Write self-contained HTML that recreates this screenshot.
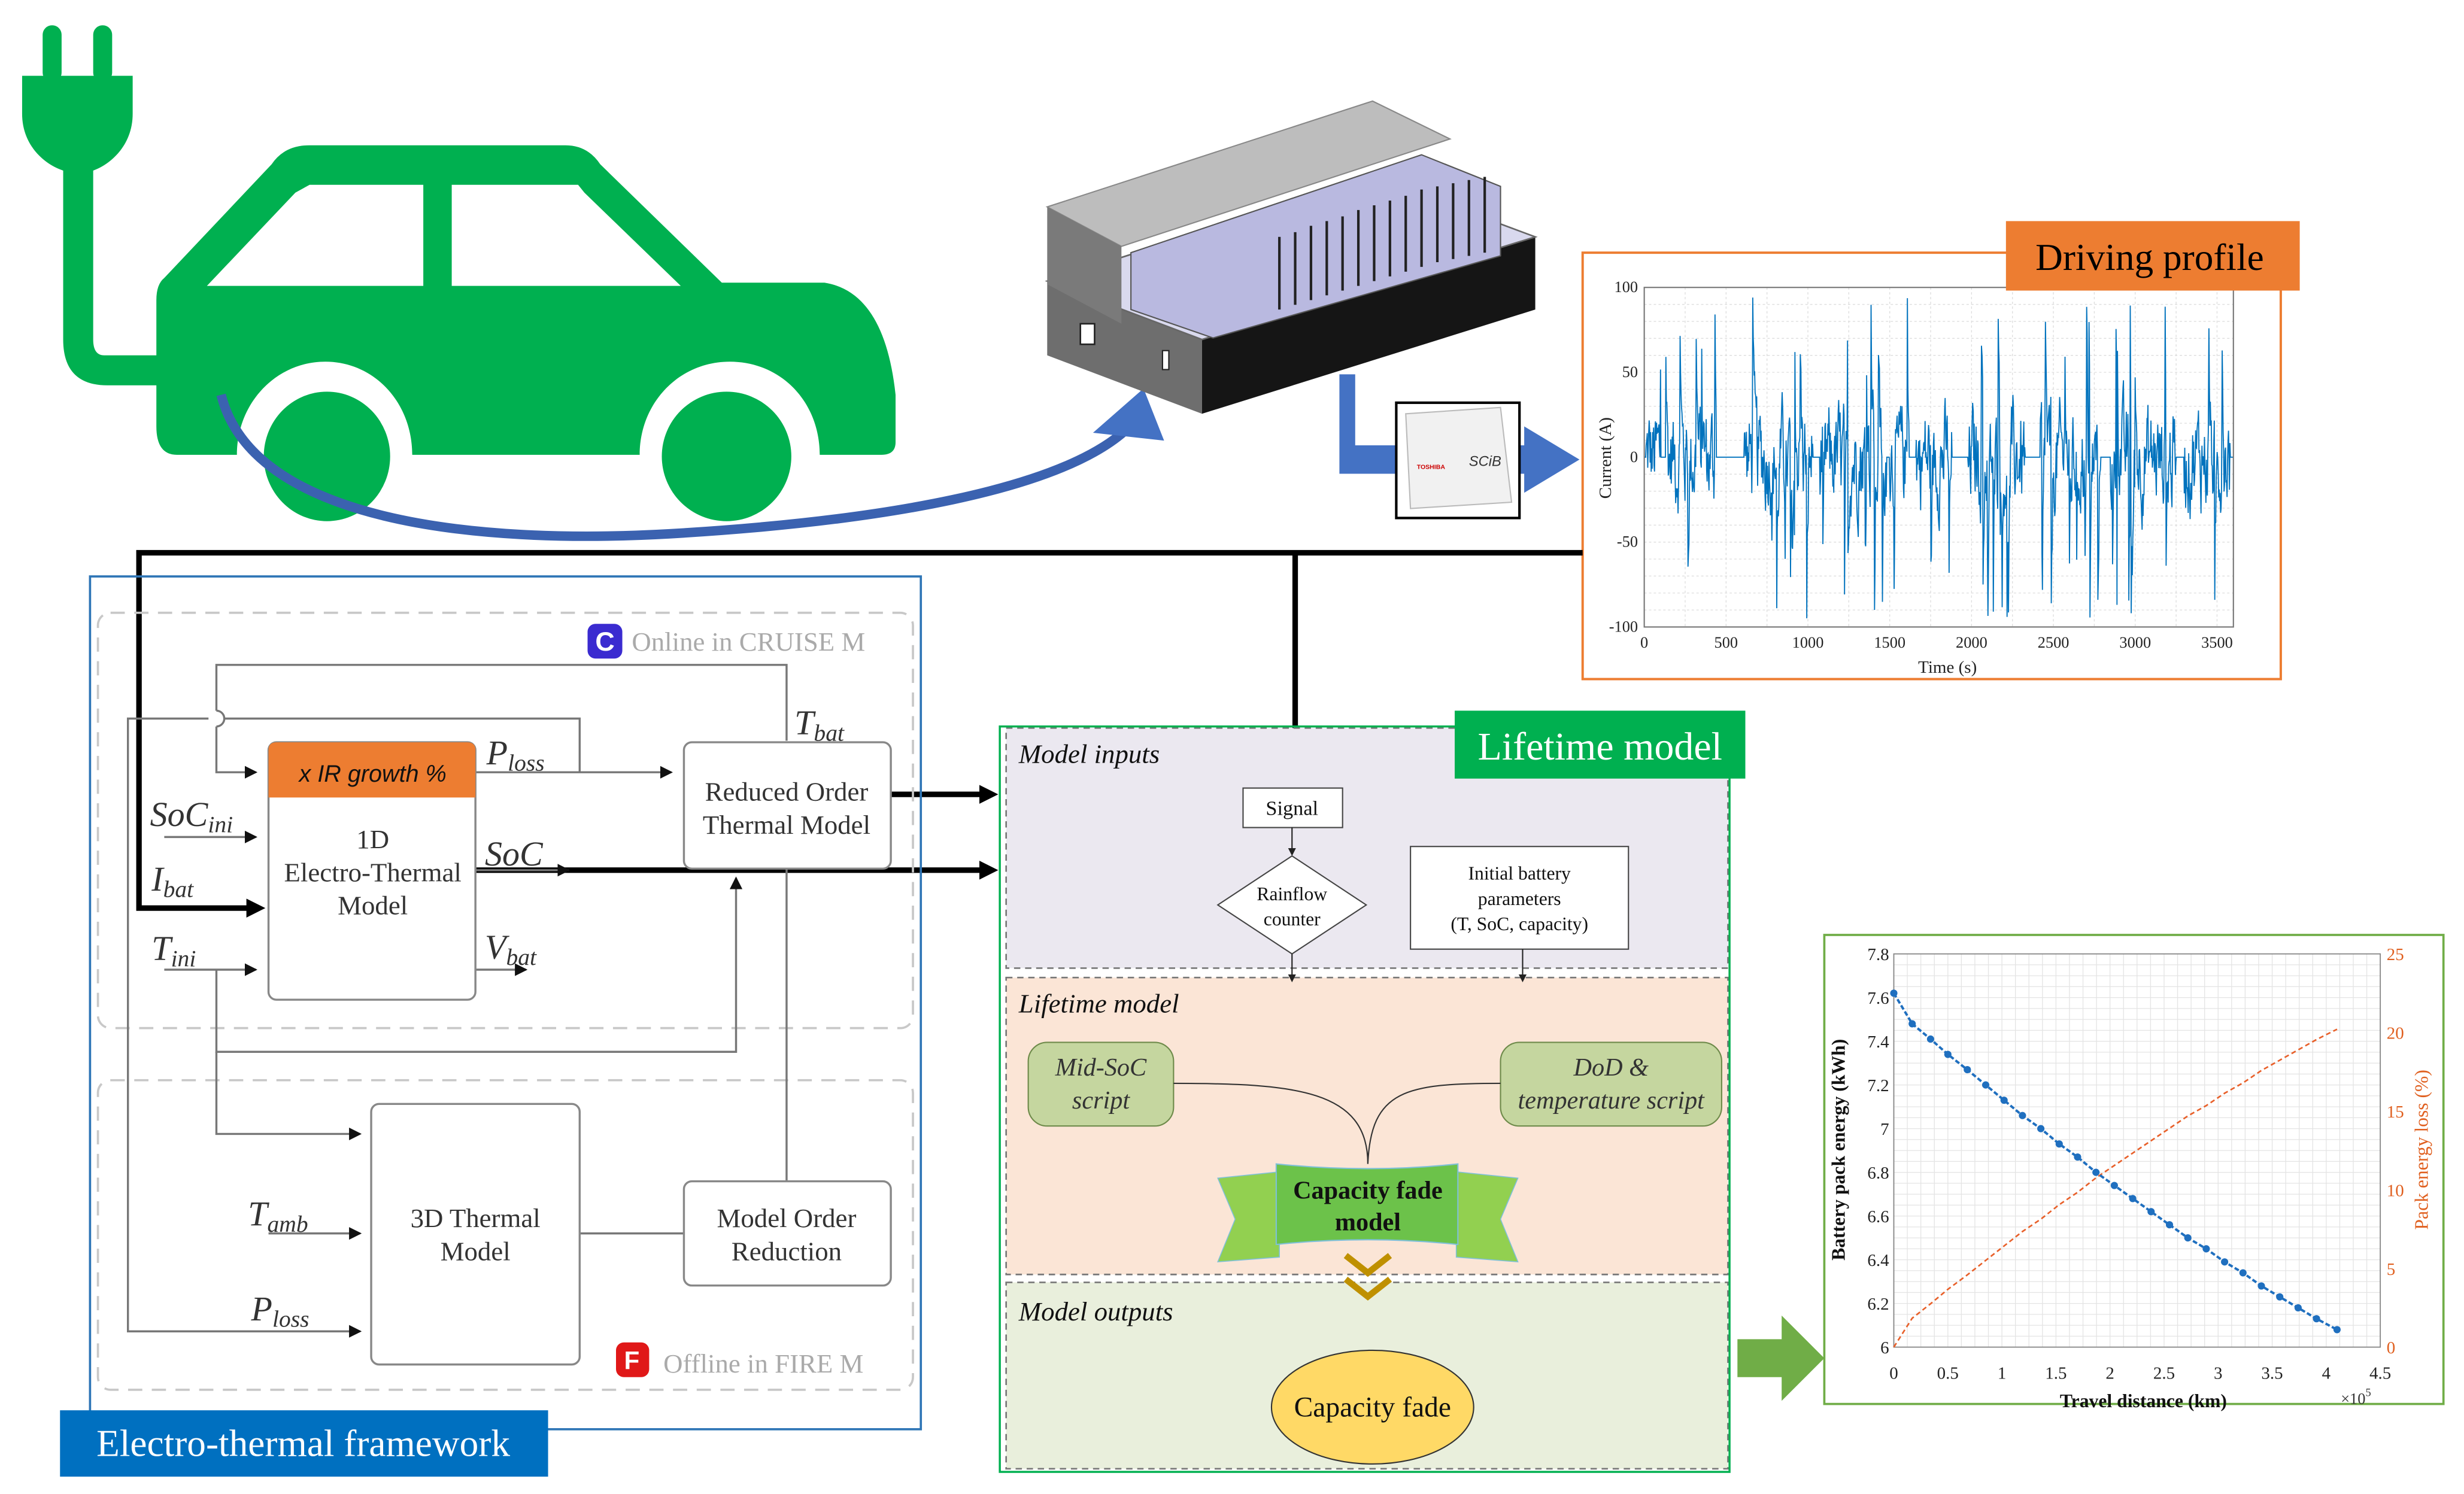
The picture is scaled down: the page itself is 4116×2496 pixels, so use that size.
<!DOCTYPE html>
<html><head><meta charset="utf-8"><style>
html,body{margin:0;padding:0;background:#fff;}
svg{display:block;}
.s{font-family:"Liberation Serif",serif;}
.m{font-family:"Liberation Serif",serif;font-style:italic;}
</style></head><body>
<svg id="sv" width="4116" height="2496" viewBox="0 0 1560 946" xmlns="http://www.w3.org/2000/svg">
<defs>
<marker id="ag" markerWidth="8" markerHeight="8" refX="7" refY="4" orient="auto" markerUnits="userSpaceOnUse"><path d="M0,0 L8,4 L0,8 Z" fill="#111"/></marker>
<marker id="ab" markerWidth="12" markerHeight="12" refX="4" refY="6" orient="auto" markerUnits="userSpaceOnUse"><path d="M0,0 L12,6 L0,12 Z" fill="#000"/></marker>
<marker id="as" markerWidth="5" markerHeight="5" refX="4" refY="2.5" orient="auto" markerUnits="userSpaceOnUse"><path d="M0,0 L5,2.5 L0,5 Z" fill="#222"/></marker>
</defs>

<!-- CAR -->
<g fill="#00b050">
<rect x="27" y="16" width="12" height="36" rx="6"/><rect x="59" y="16" width="12" height="36" rx="6"/>
<path d="M14,48 H84 V72 C84,92 70,104 59,108 L40,108 C28,104 14,92 14,72 Z"/>
<path d="M40,105 V215 Q40,244 68,244 H100 V225 H66 Q59,225 59,215 V105 Z"/>
<path d="M104,176 L172,104 Q180,92 196,92 H358 Q372,92 380,104 L457,179 H522 Q560,185 567,250 V280 Q567,288 558,288 H519 C519,255 495,229 462,229 C430,229 405,255 405,288 H261 C261,255 237,229 206,229 C175,229 150,255 150,288 H112 Q99,288 99,270 V190 Q99,180 104,176 Z"/>
<ellipse cx="207" cy="289" rx="40" ry="41"/><ellipse cx="460" cy="289" rx="41" ry="41"/>
</g>
<g fill="#fff">
<polygon points="131,181 187,122 196,117 268,117 268,181"/>
<polygon points="286,117 366,117 370,122 431,181 286,181"/>
</g>
<path d="M140,250 C160,330 300,345 424,338 C560,330 670,310 712,273" fill="none" stroke="#3b62b0" stroke-width="6"/>
<polygon points="724,246 692,274 737,279" fill="#4472c4"/>

<!-- BATTERY PACK -->
<polygon points="663,178 761,215 761,262 663,225" fill="#6e6e6e"/>
<polygon points="761,215 972,150 972,196 761,262" fill="#151515"/>
<polygon points="663,178 870,112 972,150 761,215" fill="#d9d9ee" stroke="#666" stroke-width="1"/>
<polygon points="716,160 900,98 950,118 950,162 768,214 716,196" fill="#b9b9e0" stroke="#555" stroke-width="0.8"/>
<g stroke="#222" stroke-width="1.6">
<line x1="810" y1="196" x2="810" y2="150"/><line x1="820" y1="193" x2="820" y2="147"/><line x1="830" y1="190" x2="830" y2="143"/><line x1="840" y1="187" x2="840" y2="140"/><line x1="850" y1="184" x2="850" y2="137"/><line x1="860" y1="181" x2="860" y2="133"/><line x1="870" y1="178" x2="870" y2="130"/><line x1="880" y1="175" x2="880" y2="127"/><line x1="890" y1="172" x2="890" y2="124"/><line x1="900" y1="169" x2="900" y2="120"/><line x1="910" y1="166" x2="910" y2="118"/><line x1="920" y1="164" x2="920" y2="116"/><line x1="930" y1="162" x2="930" y2="114"/><line x1="940" y1="160" x2="940" y2="112"/>
</g>
<polygon points="663,131 869,64 918,88 710,156" fill="#bdbdbd" stroke="#888" stroke-width="0.8"/>
<polygon points="663,131 710,156 710,205 663,180" fill="#7a7a7a"/>
<rect x="684" y="205" width="9" height="13" fill="#fff" stroke="#222" stroke-width="1"/>
<rect x="736" y="222" width="4" height="12" fill="#fff" stroke="#222" stroke-width="0.8"/>

<path d="M848,237 H858 V282 H965 V270 L1000,291 L965,312 V300 H848 Z" fill="#4472c4"/>
<rect x="884" y="255" width="78" height="73" fill="#fff" stroke="#000" stroke-width="1.6"/>
<polygon points="890,262 950,258 957,318 893,322" fill="#f1f1f1" stroke="#bbb" stroke-width="0.8"/>
<text x="897" y="297" font-family="Liberation Sans,sans-serif" font-size="4" fill="#c00" font-weight="bold">TOSHIBA</text>
<text x="930" y="295" font-family="Liberation Sans,sans-serif" font-size="9" font-style="italic" fill="#333">SCiB</text>

<!-- DRIVING PROFILE -->
<rect x="1002" y="160" width="442" height="270" fill="#fff" stroke="#ed7d31" stroke-width="1.5"/>
<g id="grid1" stroke="#ddd" stroke-width="0.5" stroke-dasharray="1.5,1.5"></g>
<g id="sig"></g>
<rect x="1041" y="182" width="373" height="215" fill="none" stroke="#777" stroke-width="0.8"/>
<g class="s" font-size="10" fill="#222" text-anchor="end" id="yt1"></g>
<g class="s" font-size="10" fill="#222" text-anchor="middle" id="xt1"></g>
<text class="s" x="1233" y="426" font-size="11" text-anchor="middle" fill="#222">Time (s)</text>
<text class="s" x="1020" y="290" font-size="11" text-anchor="middle" fill="#222" transform="rotate(-90 1020 290)">Current (A)</text>
<rect x="1270" y="140" width="186" height="44" fill="#ed7d31"/>
<text class="s" x="1361" y="171" font-size="24" text-anchor="middle" fill="#000">Driving profile</text>

<g stroke="#000" stroke-width="3.5" fill="none">
<polyline points="1002,350 88,350 88,575 160,575" marker-end="url(#ab)"/>
<line x1="820" y1="350" x2="820" y2="488" marker-end="url(#ab)"/>
<line x1="564" y1="503" x2="624" y2="503" marker-end="url(#ab)"/>
<line x1="301" y1="551" x2="624" y2="551" marker-end="url(#ab)"/>
</g>

<!-- ELECTRO-THERMAL FRAMEWORK -->
<rect x="57" y="365" width="526" height="540" fill="none" stroke="#2e75b6" stroke-width="1.4"/>
<rect x="62" y="388" width="516" height="263" rx="8" fill="none" stroke="#c8c8c8" stroke-width="1.4" stroke-dasharray="9,6"/>
<rect x="62" y="684" width="516" height="196" rx="8" fill="none" stroke="#c8c8c8" stroke-width="1.4" stroke-dasharray="9,6"/>
<rect x="372" y="395" width="22" height="22" rx="5" fill="#3a2bd0"/>
<text x="383" y="412" font-family="Liberation Sans,sans-serif" font-size="17" font-weight="bold" fill="#fff" text-anchor="middle">C</text>
<text class="s" x="400" y="412" font-size="17" fill="#aaa">Online in CRUISE M</text>
<rect x="390" y="850" width="21" height="22" rx="5" fill="#e01818"/>
<text x="400" y="867" font-family="Liberation Sans,sans-serif" font-size="16" font-weight="bold" fill="#fff" text-anchor="middle">F</text>
<text class="s" x="420" y="869" font-size="17" fill="#aaa">Offline in FIRE M</text>

<g stroke="#777" stroke-width="1.3" fill="none">
<polyline points="498,469 498,421 137,421 137,450"/>
<path d="M137,450 A5,5 0 0 1 137,460"/>
<polyline points="137,460 137,489 162,489" marker-end="url(#ag)"/>
<line x1="301" y1="489" x2="425" y2="489" marker-end="url(#ag)"/>
<polyline points="367,489 367,455 142,455"/>
<polyline points="132,455 81,455 81,843 228,843" marker-end="url(#ag)"/>
<line x1="104" y1="530" x2="162" y2="530" marker-end="url(#ag)"/>
<line x1="104" y1="614" x2="162" y2="614" marker-end="url(#ag)"/>
<line x1="301" y1="614" x2="333" y2="614" marker-end="url(#ag)"/>
<polyline points="137,614 137,666 466,666 466,556" marker-end="url(#ag)"/>
<polyline points="137,666 137,718 228,718" marker-end="url(#ag)"/>
<line x1="170" y1="781" x2="228" y2="781" marker-end="url(#ag)"/>
<line x1="367" y1="781" x2="433" y2="781"/>
<line x1="498" y1="549" x2="498" y2="748"/>
<line x1="301" y1="551" x2="360" y2="551" marker-end="url(#ag)"/>
</g>

<rect x="170" y="470" width="131" height="163" rx="5" fill="#fff" stroke="#888" stroke-width="1.3"/>
<path d="M170,505 V475 Q170,470 175,470 H296 Q301,470 301,475 V505 Z" fill="#ed7d31"/>
<text x="236" y="495" font-family="Liberation Sans,sans-serif" font-style="italic" font-size="15" text-anchor="middle" fill="#111">x IR growth %</text>
<g class="s" font-size="17" text-anchor="middle" fill="#333">
<text x="236" y="537">1D</text><text x="236" y="558">Electro-Thermal</text><text x="236" y="579">Model</text>
</g>
<rect x="433" y="470" width="131" height="80" rx="5" fill="#fff" stroke="#888" stroke-width="1.3"/>
<g class="s" font-size="17" text-anchor="middle" fill="#333"><text x="498" y="507">Reduced Order</text><text x="498" y="528">Thermal Model</text></g>
<rect x="235" y="699" width="132" height="165" rx="5" fill="#fff" stroke="#888" stroke-width="1.3"/>
<g class="s" font-size="17" text-anchor="middle" fill="#333"><text x="301" y="777">3D Thermal</text><text x="301" y="798">Model</text></g>
<rect x="433" y="748" width="131" height="66" rx="5" fill="#fff" stroke="#888" stroke-width="1.3"/>
<g class="s" font-size="17" text-anchor="middle" fill="#333"><text x="498" y="777">Model Order</text><text x="498" y="798">Reduction</text></g>

<g class="m" fill="#333">
<text x="308" y="484" font-size="22">P<tspan font-size="15" dy="4">loss</tspan></text>
<text x="503" y="465" font-size="22">T<tspan font-size="15" dy="4">bat</tspan></text>
<text x="95" y="523" font-size="22">SoC<tspan font-size="15" dy="4">ini</tspan></text>
<text x="96" y="564" font-size="22">I<tspan font-size="15" dy="4">bat</tspan></text>
<text x="96" y="608" font-size="22">T<tspan font-size="15" dy="4">ini</tspan></text>
<text x="307" y="548" font-size="22">SoC</text>
<text x="307" y="607" font-size="22">V<tspan font-size="15" dy="4">bat</tspan></text>
<text x="157" y="776" font-size="22">T<tspan font-size="15" dy="4">amb</tspan></text>
<text x="159" y="836" font-size="22">P<tspan font-size="15" dy="4">loss</tspan></text>
</g>
<rect x="38" y="893" width="309" height="42" fill="#0070c0"/>
<text class="s" x="192" y="922" font-size="24" text-anchor="middle" fill="#fff">Electro-thermal framework</text>

<!-- LIFETIME MODEL -->
<rect x="637" y="461" width="457" height="152" fill="#ebe8f0" stroke="#777" stroke-width="1" stroke-dasharray="4,3"/>
<rect x="637" y="619" width="457" height="188" fill="#fbe5d6" stroke="#777" stroke-width="1" stroke-dasharray="4,3"/>
<rect x="637" y="812" width="457" height="118" fill="#e9efdc" stroke="#777" stroke-width="1" stroke-dasharray="4,3"/>
<rect x="633" y="460" width="462" height="472" fill="none" stroke="#00b050" stroke-width="1.3"/>
<g class="m" font-size="17" fill="#111">
<text x="645" y="483">Model inputs</text><text x="645" y="641">Lifetime model</text><text x="645" y="836">Model outputs</text>
</g>
<rect x="787" y="499" width="63" height="25" fill="#fff" stroke="#444" stroke-width="0.8"/>
<text class="s" x="818" y="516" font-size="13" text-anchor="middle" fill="#111">Signal</text>
<line x1="818" y1="524" x2="818" y2="541" stroke="#222" stroke-width="0.8" marker-end="url(#as)"/>
<polygon points="818,542 865,573 818,604 771,573" fill="#fff" stroke="#444" stroke-width="0.8"/>
<text class="s" x="818" y="570" font-size="12" text-anchor="middle" fill="#111">Rainflow</text>
<text class="s" x="818" y="586" font-size="12" text-anchor="middle" fill="#111">counter</text>
<rect x="893" y="536" width="138" height="65" fill="#fff" stroke="#444" stroke-width="0.8"/>
<g class="s" font-size="12" text-anchor="middle" fill="#111"><text x="962" y="557">Initial battery</text><text x="962" y="573">parameters</text><text x="962" y="589">(T, SoC, capacity)</text></g>
<line x1="818" y1="604" x2="818" y2="621" stroke="#222" stroke-width="0.8" marker-end="url(#as)"/>
<line x1="964" y1="601" x2="964" y2="621" stroke="#222" stroke-width="0.8" marker-end="url(#as)"/>
<rect x="651" y="660" width="92" height="53" rx="12" fill="#c5d69f" stroke="#6e8a4a" stroke-width="0.8"/>
<g class="m" font-size="16" text-anchor="middle" fill="#333"><text x="697" y="681">Mid-SoC</text><text x="697" y="702">script</text></g>
<rect x="950" y="660" width="140" height="53" rx="12" fill="#c5d69f" stroke="#6e8a4a" stroke-width="0.8"/>
<g class="m" font-size="16" text-anchor="middle" fill="#333"><text x="1020" y="681">DoD &amp;</text><text x="1020" y="702">temperature script</text></g>
<path d="M743,686 C820,686 866,690 866,737" fill="none" stroke="#333" stroke-width="0.8"/>
<path d="M950,686 C890,686 868,690 866,737" fill="none" stroke="#333" stroke-width="0.8"/>
<polygon points="771,746 810,742 810,796 771,799 782,772" fill="#92d050" stroke="#7ec0d8" stroke-width="0.6"/>
<polygon points="961,746 922,742 922,796 961,799 950,772" fill="#92d050" stroke="#7ec0d8" stroke-width="0.6"/>
<path d="M808,737 Q866,743 923,737 V788 Q866,782 808,788 Z" fill="#6cc24a" stroke="#7ec0d8" stroke-width="0.8"/>
<g class="s" font-size="16" font-weight="bold" text-anchor="middle" fill="#111"><text x="866" y="759">Capacity fade</text><text x="866" y="779">model</text></g>
<polyline points="852,795 866,806 880,795" fill="none" stroke="#bf9000" stroke-width="4"/>
<polyline points="852,810 866,821 880,810" fill="none" stroke="#bf9000" stroke-width="4"/>
<ellipse cx="869" cy="891" rx="64" ry="36" fill="#ffd966" stroke="#333" stroke-width="0.8"/>
<text class="s" x="869" y="897" font-size="18" text-anchor="middle" fill="#111">Capacity fade</text>
<rect x="921" y="450" width="184" height="43" fill="#00b050"/>
<text class="s" x="1013" y="481" font-size="25" text-anchor="middle" fill="#fff">Lifetime model</text>

<path d="M1100,848 H1128 V833 L1155,860 L1128,887 V872 H1100 Z" fill="#70ad47"/>

<!-- PLOT 2 -->
<rect x="1155" y="592" width="392" height="297" fill="#fff" stroke="#70ad47" stroke-width="1.4"/>
<g id="grid2" stroke="#e4e4e4" stroke-width="0.5"></g>
<rect x="1199" y="604" width="308" height="249" fill="none" stroke="#888" stroke-width="0.7"/>
<g id="p2"></g>
<g class="s" font-size="11" fill="#222" text-anchor="end" id="yl2"></g>
<g class="s" font-size="11" fill="#e06020" text-anchor="start" id="yr2"></g>
<g class="s" font-size="11" fill="#222" text-anchor="middle" id="xt2"></g>
<text class="s" x="1357" y="891" font-size="12" font-weight="bold" text-anchor="middle" fill="#111">Travel distance (km)</text>
<text class="s" x="1482" y="889" font-size="10" fill="#333">×10<tspan font-size="7" dy="-5">5</tspan></text>
<text class="s" x="1168" y="728" font-size="12" font-weight="bold" text-anchor="middle" fill="#111" transform="rotate(-90 1168 728)">Battery pack energy (kWh)</text>
<text class="s" x="1537" y="728" font-size="12" text-anchor="middle" fill="#e06020" transform="rotate(-90 1537 728)">Pack energy loss (%)</text>
</svg>
<script>
(function(){
var NS="http://www.w3.org/2000/svg";
function el(p,t,a,txt){var e=document.createElementNS(NS,t);for(var k in a)e.setAttribute(k,a[k]);if(txt!==undefined)e.textContent=txt;document.getElementById(p).appendChild(e);return e;}
var x0=1041,x1=1414,yT=182,yB=397;
function px(t){return x0+t/3600*(x1-x0);} function py(v){return yB-(v+100)/200*(yB-yT);}
for(var t=0;t<=3500;t+=500){el("xt1","text",{x:px(t),y:410},String(t));el("grid1","line",{x1:px(t),y1:yT,x2:px(t),y2:yB});}
for(var t2=250;t2<3600;t2+=500){el("grid1","line",{x1:px(t2),y1:yT,x2:px(t2),y2:yB});}
for(var v=-100;v<=100;v+=50){el("yt1","text",{x:1037,y:py(v)+3},String(v));}
for(var v2=-90;v2<100;v2+=10){el("grid1","line",{x1:x0,y1:py(v2),x2:x1,y2:py(v2)});}
var s=12345;function r(){s=(s*1103515245+12345)%2147483648;return s/2147483648;}
var zeros=[[0,10],[100,130],[440,610],[1030,1070],[1480,1500],[1620,1660],[1880,1980],[2330,2420],[2790,2850],[3250,3300],[3580,3600]];
var pts=[],val=0;
for(var i=0;i<=1200;i++){var tt=i*3,z=false;for(var j=0;j<zeros.length;j++)if(tt>=zeros[j][0]&&tt<zeros[j][1])z=true;
 if(z)val=0;else{val=val*0.6+(r()-0.5)*45;if(r()<0.05)val=(r()<0.5?1:-1)*(45+r()*50);if(val>100)val=100;if(val<-100)val=-100;}
 pts.push(px(tt).toFixed(1)+","+py(val).toFixed(1));}
el("sig","polyline",{points:pts.join(" "),fill:"none",stroke:"#0072bd","stroke-width":"0.7"});
var L=1199,R=1507,T=604,B=853;
function qx(d){return L+d/4.5*(R-L);} function qy(e){return B-(e-6)/1.8*(B-T);} function qr(p){return B-p/25*(B-T);}
for(var d=0;d<=4.5;d+=0.125){el("grid2","line",{x1:qx(d),y1:T,x2:qx(d),y2:B});}
for(var e=6;e<=7.8;e+=0.05){el("grid2","line",{x1:L,y1:qy(e),x2:R,y2:qy(e)});}
[0,0.5,1,1.5,2,2.5,3,3.5,4,4.5].forEach(function(d){el("xt2","text",{x:qx(d),y:873},String(d));});
[6,6.2,6.4,6.6,6.8,7,7.2,7.4,7.6,7.8].forEach(function(e){el("yl2","text",{x:1196,y:qy(e)+4},String(e));});
[0,5,10,15,20,25].forEach(function(p){el("yr2","text",{x:1511,y:qr(p)+4},String(p));});
var X=[0,0.17,0.34,0.5,0.68,0.85,1.02,1.19,1.36,1.53,1.7,1.87,2.04,2.21,2.38,2.55,2.72,2.89,3.06,3.23,3.4,3.57,3.74,3.91,4.1];
var E=[7.62,7.48,7.41,7.34,7.27,7.2,7.13,7.06,7.0,6.93,6.87,6.8,6.74,6.68,6.62,6.56,6.5,6.45,6.39,6.34,6.28,6.23,6.18,6.13,6.08];
var b=[],o=[];for(var k=0;k<X.length;k++){b.push(qx(X[k])+","+qy(E[k]));o.push(qx(X[k])+","+qr((7.62-E[k])/7.62*100));}
el("p2","polyline",{points:o.join(" "),fill:"none",stroke:"#e8602a","stroke-width":"1","stroke-dasharray":"3,2"});
el("p2","polyline",{points:b.join(" "),fill:"none",stroke:"#1f6fbf","stroke-width":"1.5","stroke-dasharray":"3,1.5"});
for(var k2=0;k2<X.length;k2++)el("p2","circle",{cx:qx(X[k2]),cy:qy(E[k2]),r:2.3,fill:"#1f6fbf"});
})();
</script>
</body></html>
